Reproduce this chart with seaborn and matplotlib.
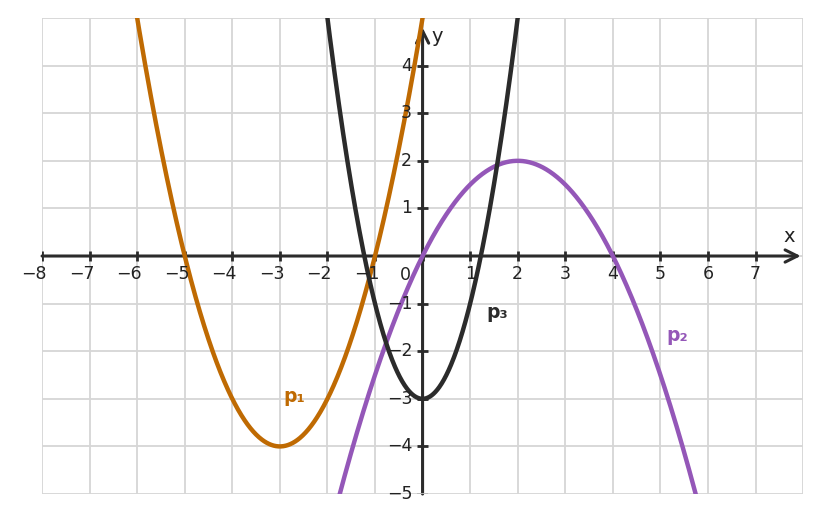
import numpy as np
import pandas as pd
import matplotlib
matplotlib.use("Agg")
import matplotlib.pyplot as plt
import seaborn as sns

p1_coef = [1, 6, 5]        # vertex (-3,-4), roots -5, -1
p2_coef = [-0.5, 2, 0]     # vertex (2,2), roots 0, 4
p3_coef = [2, 0, -3]       # vertex (0,-3)
names = ["p₁", "p₂", "p₃"]
colors = ["#bf6a02", "#9457b8", "#2b2b2b"]
label_pos = [(-2.7, -2.95), (5.35, -1.67), (1.57, -1.18)]

x_ticks = list(range(-8, 8))
y_ticks = [-5, -4, -3, -2, -1, 1, 2, 3, 4]

xs = np.linspace(-8, 8, 1601)
frames = []
for name, coef in zip(names, [p1_coef, p2_coef, p3_coef]):
    frames.append(pd.DataFrame({"x": xs, "y": np.polyval(coef, xs), "curve": name}))
df = pd.concat(frames)

sns.set_style("white")
plt.rcParams["font.family"] = ["DejaVu Sans"]

fig = plt.figure(figsize=(8.21, 5.22), dpi=100)
ax = fig.add_axes([0.0512, 0.0536, 0.927, 0.9119])

# grid
for t in range(-8, 9):
    ax.axvline(t, color="#d6d6d6", lw=1.3, zorder=0)
for t in range(-5, 6):
    ax.axhline(t, color="#d6d6d6", lw=1.3, zorder=0)

# axes with arrows
ax.annotate("", xy=(7.95, 0), xytext=(-8, 0),
            arrowprops=dict(arrowstyle="->", lw=2.2, color="#2b2b2b",
                            mutation_scale=22, shrinkA=0, shrinkB=0), zorder=2)
ax.annotate("", xy=(0, 4.8), xytext=(0, -5),
            arrowprops=dict(arrowstyle="->", lw=2.2, color="#2b2b2b",
                            mutation_scale=22, shrinkA=0, shrinkB=0), zorder=2)
for t in x_ticks:
    ax.plot([t, t], [-0.11, 0.11], color="#2b2b2b", lw=2, zorder=2, solid_capstyle="butt")
for t in y_ticks:
    ax.plot([-0.11, 0.11], [t, t], color="#2b2b2b" if t > -5 else "#bbbbbb",
            lw=2 if t > -5 else 1.3, zorder=2, solid_capstyle="butt")

sns.lineplot(data=df, x="x", y="y", hue="curve", palette=dict(zip(names, colors)),
             lw=3.2, legend=False, sort=False, estimator=None, ax=ax, zorder=3)

# tick labels
for t in x_ticks:
    if t == 0:
        ax.annotate("0", xy=(t, 0), xytext=(-12.5, -13.5), textcoords="offset points",
                    ha="center", va="center", fontsize=12.5, color="#222222", zorder=4)
    elif t < 0:
        ax.annotate(f"−{-t}", xy=(t, 0), xytext=(3.3, -13.3), textcoords="offset points",
                    ha="right", va="center", fontsize=12.5, color="#222222", zorder=4)
    else:
        ax.annotate(str(t), xy=(t, 0), xytext=(0, -13.3), textcoords="offset points",
                    ha="center", va="center", fontsize=12.5, color="#222222", zorder=4)
for t in y_ticks:
    lab = f"−{-t}" if t < 0 else str(t)
    ax.annotate(lab, xy=(0, t), xytext=(-7.5, 0), textcoords="offset points",
                ha="right", va="center", fontsize=12.5, color="#222222", zorder=4)

ax.text(7.7, 0.42, "x", fontsize=14, ha="center", va="center", color="#222222")
ax.text(0.3, 4.62, "y", fontsize=14, ha="center", va="center", color="#222222")

for name, c, (lx, ly) in zip(names, colors, label_pos):
    ax.text(lx, ly, name, color=c, fontsize=13.5, fontweight="bold",
            ha="center", va="center", zorder=4)

ax.set_xlim(-8, 8)
ax.set_ylim(-5, 5)
ax.set_xlabel("")
ax.set_ylabel("")
ax.set_xticks([])
ax.set_yticks([])
for s in ax.spines.values():
    s.set_visible(False)

fig.savefig("out.png", dpi=100)
